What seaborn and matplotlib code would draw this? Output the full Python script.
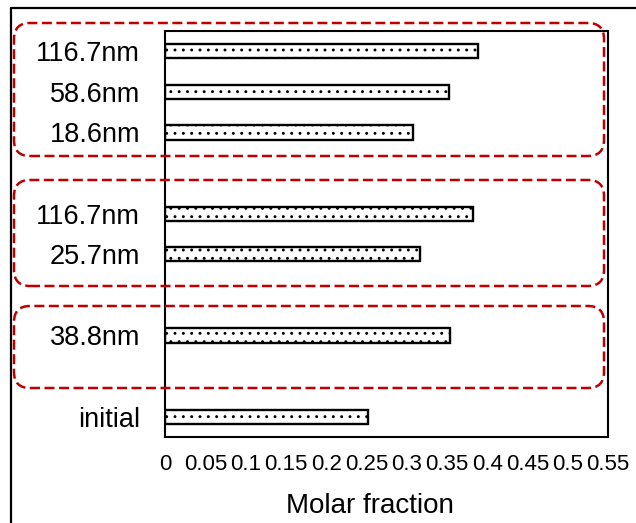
import matplotlib
matplotlib.use("Agg")
import matplotlib.pyplot as plt
import seaborn as sns
import pandas as pd
from matplotlib.patches import FancyBboxPatch
from matplotlib.lines import Line2D

# Data
labels = ["116.7nm", "58.6nm", "18.6nm", "116.7nm", "25.7nm", "38.8nm", "initial"]
values = [0.389, 0.353, 0.308, 0.382, 0.317, 0.354, 0.252]
slots = [0, 1, 2, 4, 5, 7, 9]
n_slots = 10
xticks = [0, 0.05, 0.1, 0.15, 0.2, 0.25, 0.3, 0.35, 0.4, 0.45, 0.5, 0.55]
xtick_labels = ["0", "0.05", "0.1", "0.15", "0.2", "0.25", "0.3", "0.35", "0.4", "0.45", "0.5", "0.55"]

sns.set_style("white")
plt.rcParams['font.family'] = ['Liberation Sans', 'DejaVu Sans']
plt.rcParams['text.color'] = 'black'
plt.rcParams['xtick.color'] = 'black'
plt.rcParams['ytick.color'] = 'black'
plt.rcParams['axes.labelcolor'] = 'black'
plt.rcParams['hatch.linewidth'] = 0.9
plt.rcParams['hatch.color'] = 'black'

keys = [f"s{i}" for i in slots]
order = [f"s{i}" for i in range(n_slots)]
df = pd.DataFrame({"key": keys, "value": values})

fig = plt.figure(figsize=(6.36, 5.23), dpi=100)
ax = fig.add_axes([165/636, (523-437)/523, 443/636, 406/523])

sns.barplot(data=df, x="value", y="key", order=order, orient="h",
            color="white", edgecolor="black", linewidth=1.7, width=0.35,
            errorbar=None, hatch="..", ax=ax)
for p in ax.patches:
    p.set_hatch("..")
    p.set_facecolor("white")
    p.set_edgecolor("black")

ax.set_xlim(0, 0.55)
ax.set_xticks(xticks)
ax.set_xticklabels(xtick_labels, fontsize=16)
tick_text = [""] * n_slots
for s, l in zip(slots, labels):
    tick_text[s] = l
ax.set_yticks(range(n_slots))
ax.set_yticklabels(tick_text, fontsize=19.5)
ax.set_ylabel("")
ax.set_xlabel("")
ax.tick_params(axis="y", length=0, pad=18)
ax.tick_params(axis="x", length=0, pad=12)
for sp in ax.spines.values():
    sp.set_visible(True)
    sp.set_color("black")
    sp.set_linewidth(1.5)

fig.text(370/636, 1 - 506/523, "Molar fraction", fontsize=20, ha="center", va="center")

# Red dashed rounded group boxes (inches, from bottom-left)
red = "#C00000"
for (x0, ytop, x1, ybot) in [(14, 23, 604, 156), (14, 180, 604, 286), (14, 306, 604, 388)]:
    box = FancyBboxPatch((x0/100, (523-ybot)/100), (x1-x0)/100, (ybot-ytop)/100,
                         boxstyle="round,pad=0,rounding_size=0.16",
                         transform=fig.dpi_scale_trans, fill=False,
                         edgecolor=red, linewidth=1.8, linestyle=(0, (4, 1.8)),
                         zorder=10)
    fig.patches.append(box)

# Outer frame lines
fig.add_artist(Line2D([11/636, 11/636], [0, 1 - 8/523], transform=fig.transFigure,
                      color="black", linewidth=1.6))
fig.add_artist(Line2D([11/636, 1], [1 - 8/523, 1 - 8/523], transform=fig.transFigure,
                      color="black", linewidth=1.6))

fig.savefig("out.png", dpi=100)
